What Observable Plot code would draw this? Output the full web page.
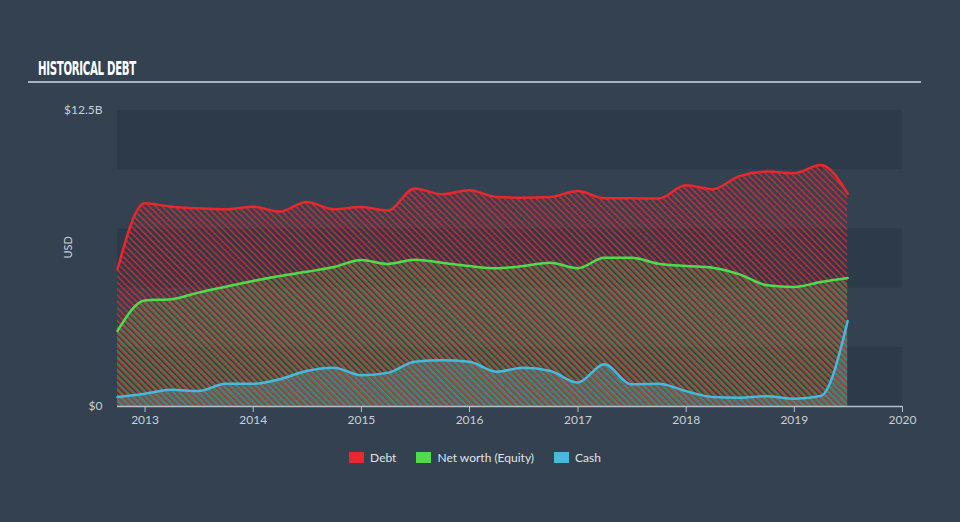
<!DOCTYPE html>
<html>
<head>
<meta charset="utf-8">
<script src="https://cdn.jsdelivr.net/npm/d3@7"></script>
<script src="https://cdn.jsdelivr.net/npm/@observablehq/plot@0.6"></script>
<style>
  html, body { margin: 0; padding: 0; }
  body { width: 960px; height: 522px; overflow: hidden; background: #334151; font-family: Lato, "Noto Sans", sans-serif; }
  #head { position: relative; height: 90px; }
  #title { position: absolute; left: 38px; top: 59px; font-family: "DejaVu Sans Condensed", "Liberation Sans Narrow", sans-serif; font-weight: bold; font-size: 19px; line-height: 19px; color: #ffffff; white-space: nowrap; transform-origin: 0 0; letter-spacing: -0.5px; }
  #rule { position: absolute; left: 28px; top: 81px; width: 893px; height: 2px; background: #aab3bd; }
  #chart { height: 350px; }
  #legend { display: flex; justify-content: center; align-items: center; margin-top: 10px; font-size: 12px; color: #dfe4ea; padding-right: 10px; }
  .item { display: flex; align-items: center; margin: 0 10px; }
  .sw { width: 15px; height: 11px; margin-right: 6px; }
</style>
</head>
<body>
<div id="head"><span id="title">HISTORICAL DEBT</span><div id="rule"></div></div>
<div id="chart"></div>
<div id="legend"></div>
<script>
// Quarter-end dates
const dates = ["2012-09-30","2012-12-31","2013-03-31","2013-06-30","2013-09-30","2013-12-31",
  "2014-03-31","2014-06-30","2014-09-30","2014-12-31","2015-03-31","2015-06-30","2015-09-30","2015-12-31",
  "2016-03-31","2016-06-30","2016-09-30","2016-12-31","2017-03-31","2017-06-30","2017-09-30","2017-12-31",
  "2018-03-31","2018-06-30","2018-09-30","2018-12-31","2019-03-31","2019-06-30"];
// Values in billions USD
const debt = [5.79, 8.58, 8.44, 8.37, 8.33, 8.44, 8.23, 8.64, 8.33, 8.42, 8.28, 9.21, 8.96, 9.13,
  8.85, 8.82, 8.85, 9.10, 8.79, 8.79, 8.78, 9.34, 9.17, 9.73, 9.92, 9.85, 10.20, 8.99];
const equity = [3.19, 4.48, 4.53, 4.81, 5.06, 5.30, 5.51, 5.69, 5.89, 6.19, 6.02, 6.20, 6.07, 5.93,
  5.84, 5.93, 6.07, 5.84, 6.28, 6.28, 6.03, 5.93, 5.86, 5.58, 5.12, 5.05, 5.26, 5.43];
const cash = [0.40, 0.54, 0.71, 0.65, 0.96, 0.96, 1.15, 1.50, 1.64, 1.32, 1.42, 1.89, 1.95, 1.89,
  1.47, 1.64, 1.50, 1.01, 1.78, 0.94, 0.96, 0.65, 0.40, 0.37, 0.43, 0.33, 0.44, 3.61];
const seriesNames = ["Debt", "Net worth (Equity)", "Cash"];
const seriesColors = ["#e8282c", "#4fdc4c", "#46b9dc"];
const hatchOpacity = [0.8, 0.5, 0.6];
const yTicks = [0, 12.5];
const xTickYears = [2013, 2014, 2015, 2016, 2017, 2018, 2019, 2020];
const bandStarts = [0, 5, 10];
const bandSize = 2.5;

const parse = d3.utcParse("%Y-%m-%d");
const rows = dates.map((d, i) => ({date: parse(d), debt: debt[i], equity: equity[i], cash: cash[i]}));
const xStart = parse(dates[0]);
const xEnd = new Date(Date.UTC(2020, 0, 1));
const bands = bandStarts.map(s => ({y1: s, y2: s + bandSize, x1: xStart, x2: xEnd}));
const xTicks = xTickYears.map(y => new Date(Date.UTC(y, 0, 1)));

const keys = ["debt", "equity", "cash"];
const ids = ["hDebt", "hEq", "hCash"];

const marks = [
  Plot.rect(bands, {x1: "x1", x2: "x2", y1: "y1", y2: "y2", fill: "#2d3a49"}),
];
keys.forEach((k, i) => {
  marks.push(Plot.areaY(rows, {x: "date", y1: 0, y2: k, fill: `url(#${ids[i]})`, curve: "monotone-x"}));
});
keys.forEach((k, i) => {
  marks.push(Plot.lineY(rows, {x: "date", y: k, stroke: seriesColors[i], strokeWidth: 2.5, curve: "monotone-x"}));
});
marks.push(
  Plot.ruleY([0], {stroke: "#b7c0ca", strokeWidth: 1.5}),
  Plot.axisX({ticks: xTicks, tickFormat: d3.utcFormat("%Y"), tickSize: 6, tickPadding: 3, stroke: "#b7c0ca", label: null, fill: "#c9d0d8"}),
  Plot.axisY({ticks: yTicks, tickSize: 0, tickPadding: 15, tickFormat: d => d === 0 ? "$0" : `$${d}B`, label: null, fill: "#c9d0d8"}),
  Plot.text(["USD"], {frameAnchor: "left", dx: -49, rotate: -90, fill: "#c9d0d8", fontSize: 11})
);

const svg = Plot.plot({
  width: 960,
  height: 350,
  marginTop: 20,
  marginBottom: 34,
  marginLeft: 117,
  marginRight: 58,
  style: {background: "transparent", color: "#c9d0d8", fontSize: "12px", fontFamily: "Lato, 'Noto Sans', sans-serif"},
  x: {type: "utc", domain: [xStart, xEnd]},
  y: {domain: [0, 12.5]},
  marks
});

// Fine offset hatch stripes so overlapping areas mix colours
const defs = ids.map((id, i) => `<pattern id="${id}" width="4.5" height="6" patternUnits="userSpaceOnUse" patternTransform="rotate(-45)"><rect x="${i * 1.5}" y="0" width="1.6" height="6" fill="${seriesColors[i]}" fill-opacity="${hatchOpacity[i]}"/></pattern>`).join("");
svg.insertAdjacentHTML("afterbegin", `<defs>${defs}</defs>`);
document.getElementById("chart").appendChild(svg);

const legend = document.getElementById("legend");
seriesNames.forEach((n, i) => {
  const it = document.createElement("div");
  it.className = "item";
  it.innerHTML = `<span class="sw" style="background:${seriesColors[i]}"></span><span>${n}</span>`;
  legend.appendChild(it);
});

const t = document.getElementById("title");
const w = t.getBoundingClientRect().width;
t.style.transform = `scaleX(${98 / w})`;
</script>
</body>
</html>
